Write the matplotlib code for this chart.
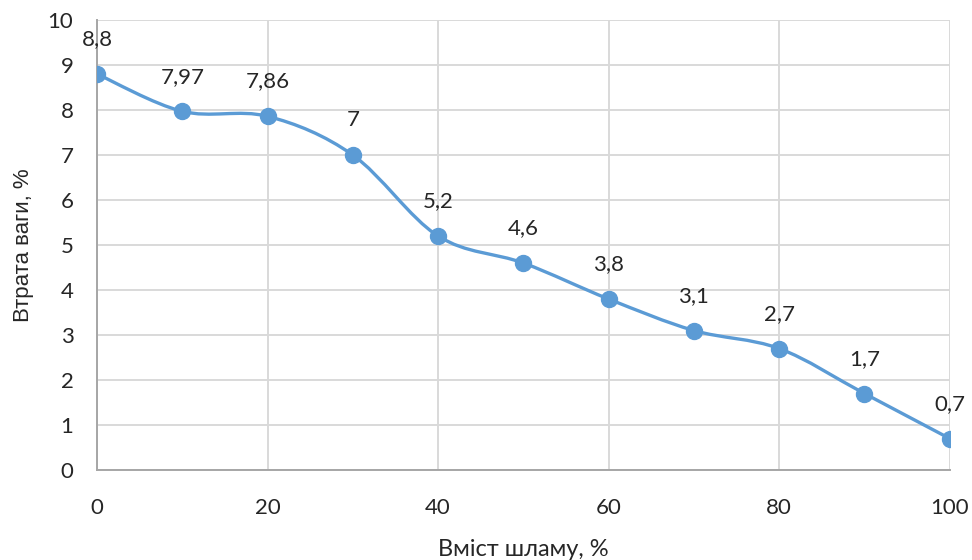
import numpy as np
import matplotlib
matplotlib.use("Agg")
import matplotlib.pyplot as plt
from matplotlib.path import Path
from matplotlib.patches import PathPatch

# data
sludge = [0, 10, 20, 30, 40, 50, 60, 70, 80, 90, 100]
weight_loss = [8.8, 7.97, 7.86, 7.0, 5.2, 4.6, 3.8, 3.1, 2.7, 1.7, 0.7]
labels = ["8,8", "7,97", "7,86", "7", "5,2", "4,6", "3,8", "3,1", "2,7", "1,7", "0,7"]

color = "#5B9BD5"
text_color = "#262626"
plt.rcParams['font.family'] = ['Lato', 'DejaVu Sans']


def smooth_path(x, y):
    # Excel-style smoothed line: Catmull-Rom as cubic Bezier segments
    pts = np.column_stack([x, y]).astype(float)
    verts = [pts[0]]
    codes = [Path.MOVETO]
    n = len(pts)
    for i in range(n - 1):
        p0 = pts[i - 1] if i > 0 else pts[i]
        p1, p2 = pts[i], pts[i + 1]
        p3 = pts[i + 2] if i + 2 < n else pts[i + 1]
        c1 = p1 + (p2 - p0) / 6
        c2 = p2 - (p3 - p1) / 6
        verts += [c1, c2, p2]
        codes += [Path.CURVE4] * 3
    return Path(verts, codes)


fig = plt.figure(figsize=(9.72, 5.6), dpi=100)
ax = fig.add_axes([0.0998, 0.1607, 0.8772, 0.8036])

ax.add_patch(PathPatch(smooth_path(sludge, weight_loss), fill=False,
                       edgecolor=color, lw=2.4, zorder=3))
ax.plot(sludge, weight_loss, 'o', color=color, ms=11.5, zorder=4)

for xv, yv, txt in zip(sludge, weight_loss, labels):
    ax.annotate(txt, (xv, yv), xytext=(0, 25), textcoords="offset points",
                ha="center", va="center", fontsize=16, color=text_color)

ax.set_xlim(0, 100)
ax.set_ylim(0, 10)
ax.set_xticks(range(0, 101, 20))
ax.set_yticks(range(0, 11))
ax.grid(True, color="#D9D9D9", lw=1.4)
ax.set_axisbelow(True)
for side in ["top", "right"]:
    ax.spines[side].set_visible(False)
for side in ["left", "bottom"]:
    ax.spines[side].set_color("#A6A6A6")
    ax.spines[side].set_linewidth(1.4)
ax.tick_params(length=0, labelsize=16, labelcolor=text_color)
ax.tick_params(axis="y", pad=17)
ax.tick_params(axis="x", pad=20)

ax.set_xlabel("Вміст шламу, %", fontsize=17, color=text_color, labelpad=15)
ax.set_ylabel("Втрата ваги, %", fontsize=16, color=text_color, labelpad=10,
              family=["Liberation Sans", "DejaVu Sans"])

fig.savefig("out.png", dpi=100)
